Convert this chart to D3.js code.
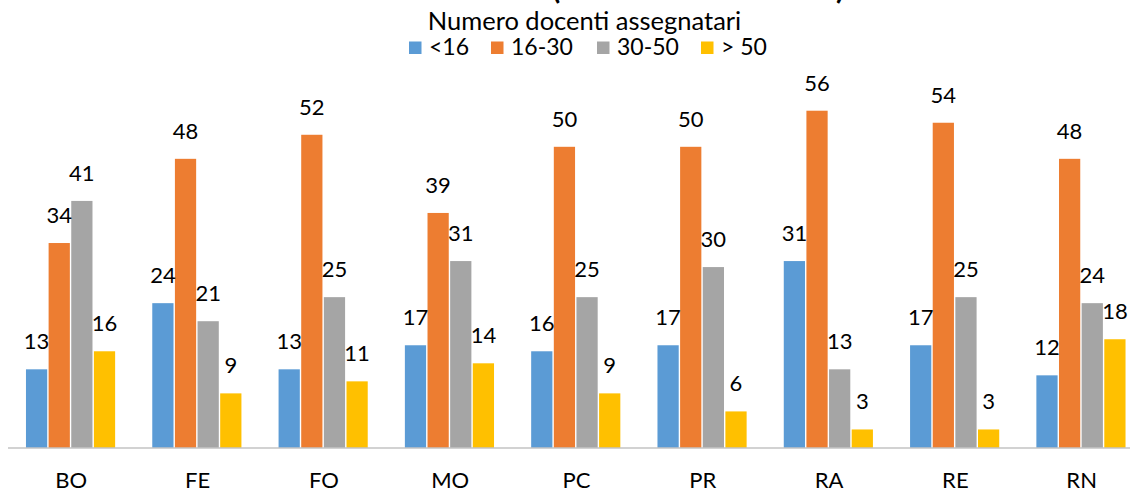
<!DOCTYPE html>
<html>
<head>
<meta charset="utf-8">
<script src="https://cdn.jsdelivr.net/npm/d3@7"></script>
<style>
  html, body { margin: 0; padding: 0; background: #fff; }
  svg { display: block; font-family: Lato, "Open Sans", sans-serif; }
</style>
</head>
<body>
<svg id="chart" width="1130" height="492"></svg>
<script>
// dati
const categories = ["BO", "FE", "FO", "MO", "PC", "PR", "RA", "RE", "RN"];
const seriesNames = ["<16", "16-30", "30-50", "> 50"];
const colors = ["#5B9BD5", "#ED7D31", "#A5A5A5", "#FFC000"];
const under16 = [13, 24, 13, 17, 16, 17, 31, 17, 12];
const from16to30 = [34, 48, 52, 39, 50, 50, 56, 54, 48];
const from30to50 = [41, 21, 25, 31, 25, 30, 13, 25, 24];
const over50 = [16, 9, 11, 14, 9, 6, 3, 3, 18];
const legendTitle = "Numero docenti assegnatari";

const series = [under16, from16to30, from30to50, over50];

const width = 1130, height = 492;
const svg = d3.select("#chart");

// scale
const x0 = d3.scaleBand()
    .domain(categories)
    .range([8.1, 1144.8])
    .paddingInner(0.283)
    .paddingOuter(0.1415);

const x1 = d3.scaleBand()
    .domain(seriesNames)
    .range([0, x0.bandwidth()]);

const y = d3.scaleLinear()
    .domain([0, 60])
    .range([447.5, 447.5 - 60 * 6.014]);

// titolo tagliato in alto (si vedono solo le parentesi)
svg.append("text")
    .attr("x", 552).attr("y", -1)
    .attr("font-size", 30).attr("font-weight", "bold")
    .text("(");
svg.append("text")
    .attr("x", 836).attr("y", -1)
    .attr("font-size", 30).attr("font-weight", "bold")
    .text(")");

// barre
const groups = svg.selectAll(".grp")
    .data(categories)
    .enter()
    .append("g")
    .attr("class", "grp")
    .attr("transform", d => `translate(${x0(d)},0)`);

groups.selectAll("rect")
    .data((d, i) => seriesNames.map((s, k) => ({ key: s, k: k, value: series[k][i] })))
    .enter()
    .append("rect")
    .attr("x", d => x1(d.key))
    .attr("y", d => y(d.value))
    .attr("width", x1.bandwidth() - 1.4)
    .attr("height", d => y(0) - y(d.value))
    .attr("fill", d => colors[d.k]);

// etichette valori
groups.selectAll("text")
    .data((d, i) => seriesNames.map((s, k) => ({ key: s, k: k, value: series[k][i] })))
    .enter()
    .append("text")
    .attr("x", d => x1(d.key) + (x1.bandwidth() - 1.4) / 2)
    .attr("y", d => y(d.value) - 20)
    .attr("text-anchor", "middle")
    .attr("font-size", 22)
    .attr("fill", "#000")
    .text(d => d.value);

// asse x
svg.append("line")
    .attr("x1", 8).attr("x2", width)
    .attr("y1", y(0) + 0.5).attr("y2", y(0) + 0.5)
    .attr("stroke", "#a6a6a6")
    .attr("stroke-width", 1.2);

svg.selectAll(".cat")
    .data(categories)
    .enter()
    .append("text")
    .attr("class", "cat")
    .attr("x", d => x0(d) + x0.bandwidth() / 2)
    .attr("y", 488)
    .attr("text-anchor", "middle")
    .attr("font-size", 22)
    .attr("fill", "#000")
    .text(d => d);

// legenda
svg.append("text")
    .attr("x", 584.5).attr("y", 30)
    .attr("text-anchor", "middle")
    .attr("font-size", 25.5)
    .attr("fill", "#000")
    .text(legendTitle);

const legendX = [409, 491, 597, 701];
const leg = svg.selectAll(".leg")
    .data(seriesNames)
    .enter()
    .append("g")
    .attr("class", "leg")
    .attr("transform", (d, i) => `translate(${legendX[i]},0)`);

leg.append("rect")
    .attr("x", 0).attr("y", 41.5)
    .attr("width", 12.5).attr("height", 12.5)
    .attr("fill", (d, i) => colors[i]);

leg.append("text")
    .attr("x", 20).attr("y", 54.5)
    .attr("font-size", 23)
    .attr("fill", "#000")
    .text(d => d);
</script>
</body>
</html>
